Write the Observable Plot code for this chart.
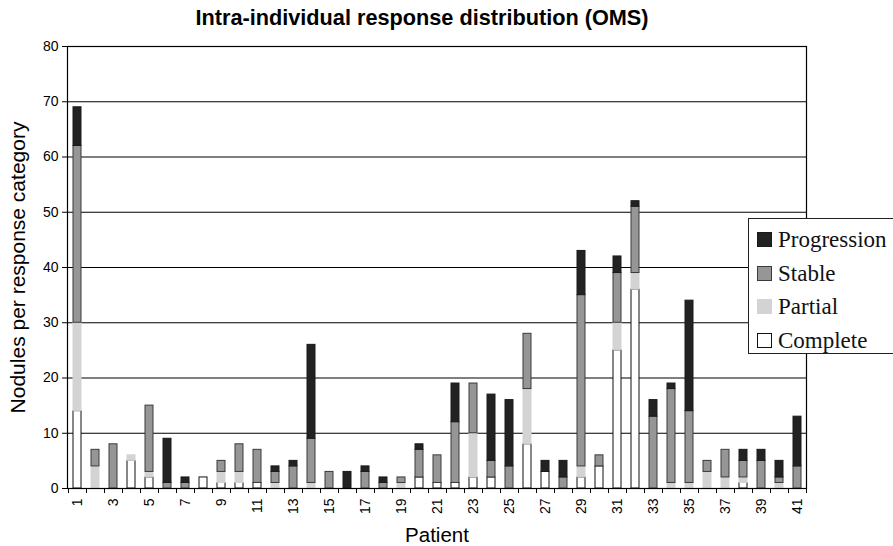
<!DOCTYPE html>
<html><head><meta charset="utf-8">
<script src="https://cdn.jsdelivr.net/npm/d3@7"></script>
<script src="https://cdn.jsdelivr.net/npm/@observablehq/plot@0.6"></script>
<style>
body{margin:0;background:#fff;overflow:hidden}
#wrap{position:relative;width:893px;height:546px;overflow:hidden;background:#fff}
#legend{position:absolute;left:748px;top:218px;width:170px;height:134px;border:1px solid #222;background:#fff;font-family:"Liberation Serif","Times New Roman",serif;font-size:23px;color:#111}
.item{position:absolute;left:8px;height:30px;line-height:30px;white-space:nowrap}
.sw{display:inline-block;width:15px;height:15px;vertical-align:middle;margin-right:6px;box-sizing:border-box;position:relative;top:-2px}
</style></head>
<body><div id="wrap"></div>
<script>
const title = "Intra-individual response distribution (OMS)";
const xLabel = "Patient";
const yLabel = "Nodules per response category";
const categories = ["Complete", "Partial", "Stable", "Progression"];
const patients = d3.range(1, 42);
const complete    = [14,0,0,5,2,0,0,2,1,1,1,0,0,0,0,0,0,0,0,2,1,1,2,2,0,8,3,0,2,4,25,36,0,0,0,0,0,1,0,0,0];
const partial     = [16,4,0,1,1,0,0,0,2,2,0,1,0,1,0,0,0,0,1,0,0,0,8,0,0,10,0,0,2,0,5,3,0,1,1,3,2,1,0,1,0];
const stable      = [32,3,8,0,12,1,1,0,2,5,6,2,4,8,3,0,3,1,1,5,5,11,9,3,4,10,0,2,31,2,9,12,13,17,13,2,5,3,5,1,4];
const progression = [7,0,0,0,0,8,1,0,0,0,0,1,1,17,0,3,1,1,0,1,0,7,0,12,12,0,2,3,8,0,3,1,3,1,20,0,0,2,2,3,9];
const yTicks = d3.range(0, 81, 10);
const gridValues = d3.range(10, 80, 10);
const oddPatients = patients.filter(p => p % 2 === 1);

const fillMap = {Complete:"#ffffff", Partial:"#d3d3d3", Stable:"#969696", Progression:"#222222"};
const strokeMap = {Complete:"#111111", Partial:"#d3d3d3", Stable:"#3a3a3a", Progression:"#1a1a1a"};
const series = {Complete:complete, Partial:partial, Stable:stable, Progression:progression};

const rows = [];
patients.forEach((p, i) => {
  categories.forEach(c => {
    const v = series[c][i];
    if (v > 0) rows.push({patient: p, cat: c, value: v});
  });
});

const W = 893, H = 546, ML = 67, MR = 87, MT = 46, MB = 58;
const step = (W - ML - MR) / patients.length;

const chart = Plot.plot({
  width: W, height: H,
  marginLeft: ML, marginRight: MR, marginTop: MT, marginBottom: MB,
  style: {fontFamily: "'Liberation Sans', Arial, sans-serif", fontSize: "14px", color: "#000", background: "#fff"},
  x: {type: "band", domain: patients, paddingInner: 0.56, paddingOuter: 0.28, axis: null},
  y: {domain: [0, 80], axis: null},
  color: {type: "identity"},
  marks: [
    Plot.ruleY(gridValues, {stroke: "#000", strokeWidth: 1.2}),
    Plot.rectY(rows, Plot.stackY({
      x: "patient", y: "value", z: "cat",
      fill: d => fillMap[d.cat], stroke: d => strokeMap[d.cat], strokeWidth: 1
    })),
    Plot.frame({stroke: "#000", strokeWidth: 1.2}),
    Plot.axisY({ticks: yTicks, tickSize: 5, tickPadding: 4, label: null, fontSize: 14}),
    Plot.axisX({ticks: patients, tickSize: 5, dx: -step / 2, text: null, label: null}),
    Plot.axisX({ticks: [41], tickSize: 5, dx: step / 2, text: null, label: null}),
    Plot.axisX({ticks: oddPatients, tickSize: 0, tickPadding: 10, tickRotate: -90, label: null, fontSize: 14}),
    Plot.text([title], {text: d => d, frameAnchor: "top", textAnchor: "middle", lineAnchor: "middle", dy: -28, dx: -15, fontSize: 21.7, fontWeight: "bold"}),
    Plot.text([xLabel], {text: d => d, frameAnchor: "bottom", textAnchor: "middle", lineAnchor: "middle", dy: 47, fontSize: 20.5}),
    Plot.text([yLabel], {text: d => d, frameAnchor: "left", textAnchor: "middle", lineAnchor: "middle", dx: -49, rotate: -90, fontSize: 21})
  ]
});
const wrap = document.getElementById("wrap");
wrap.appendChild(chart);

const legend = document.createElement("div");
legend.id = "legend";
const legendOrder = ["Progression", "Stable", "Partial", "Complete"];
legendOrder.forEach((c, i) => {
  const it = document.createElement("div");
  it.className = "item";
  it.style.top = (6 + i * 33.5) + "px";
  const sw = document.createElement("span");
  sw.className = "sw";
  sw.style.background = fillMap[c];
  sw.style.border = "1px solid " + strokeMap[c];
  it.appendChild(sw);
  it.appendChild(document.createTextNode(c));
  legend.appendChild(it);
});
wrap.appendChild(legend);
</script>
</body></html>
